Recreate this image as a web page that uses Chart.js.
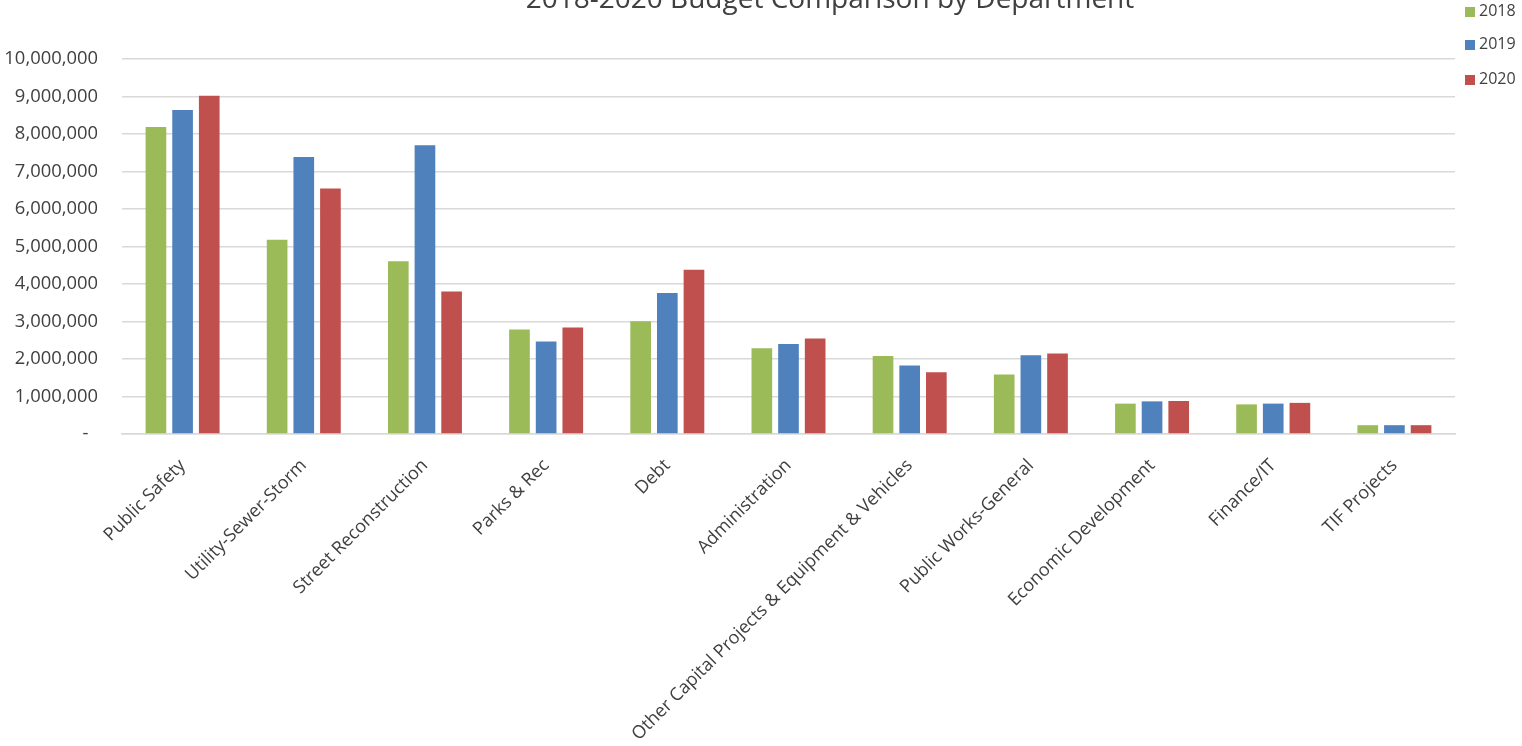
<!DOCTYPE html>
<html>
<head>
<meta charset="utf-8">
<script src="https://cdn.jsdelivr.net/npm/chart.js@4"></script>
<style>
  body { margin: 0; background: #fff; overflow: hidden; }
  #wrap { position: relative; width: 1522px; height: 746px; }
  #titulo { position: absolute; left: 830px; top: -17px; transform: translateX(-50%); white-space: nowrap;
            font: 28px "Open Sans"; line-height: 1; color: #404040; }
  #leyenda { position: absolute; left: 1465px; top: 0; font: 16px "Open Sans"; color: #404040; }
  .item { position: absolute; left: 0; white-space: nowrap; line-height: 16px; }
  .caja { display: inline-block; width: 10px; height: 10px; margin-right: 4px; vertical-align: -1px; }
</style>
</head>
<body>
<div id="wrap">
  <canvas id="grafico"></canvas>
  <div id="titulo">2018-2020 Budget Comparison by Department</div>
  <div id="leyenda"></div>
</div>
<script>
const departamentos = ['Public Safety', 'Utility-Sewer-Storm', 'Street Reconstruction', 'Parks & Rec', 'Debt',
  'Administration', 'Other Capital Projects & Equipment & Vehicles', 'Public Works-General',
  'Economic Development', 'Finance/IT', 'TIF Projects'];
const anios = ['2018', '2019', '2020'];
const valores2018 = [8190000, 5180000, 4610000, 2790000, 3010000, 2290000, 2080000, 1590000, 810000, 790000, 235000];
const valores2019 = [8640000, 7390000, 7700000, 2470000, 3760000, 2400000, 1830000, 2100000, 870000, 810000, 235000];
const valores2020 = [9020000, 6550000, 3800000, 2840000, 4380000, 2550000, 1650000, 2150000, 880000, 830000, 235000];
const colores = ['#9BBB59', '#4F81BD', '#C0504D'];

const series = [valores2018, valores2019, valores2020];
const textoColor = '#404040';

// leyenda en html, a la derecha arriba
const leyenda = document.getElementById('leyenda');
const posY = [2, 35, 70];
anios.forEach((anio, i) => {
  const div = document.createElement('div');
  div.className = 'item';
  div.style.top = posY[i] + 'px';
  div.innerHTML = `<span class="caja" style="background:${colores[i]}"></span>${anio}`;
  leyenda.appendChild(div);
});

const ctx = document.getElementById('grafico');
const chart = new Chart(ctx, {
  type: 'bar',
  data: {
    labels: departamentos,
    datasets: series.map((datos, i) => ({
      label: anios[i],
      data: datos,
      backgroundColor: colores[i],
      borderWidth: 0,
      categoryPercentage: 0.66,
      barPercentage: 0.775
    }))
  },
  options: {
    responsive: true,
    maintainAspectRatio: false,
    animation: false,
    layout: { padding: { top: 59, right: 67, left: 5, bottom: 0 } },
    plugins: {
      legend: { display: false },
      title: { display: false },
      tooltip: { enabled: false }
    },
    scales: {
      x: {
        grid: { display: false },
        border: { display: true, color: '#d9d9d9', width: 1.5 },
        afterFit: (escala) => { escala.height = 312; },
        ticks: {
          autoSkip: false,
          minRotation: 45,
          maxRotation: 45,
          padding: 13,
          color: textoColor,
          font: { family: 'Open Sans', size: 18 }
        }
      },
      y: {
        min: 0,
        max: 10000000,
        border: { display: false },
        grid: { color: '#d9d9d9', lineWidth: 1.5, drawTicks: false },
        afterFit: (escala) => { escala.width = 117; },
        ticks: {
          stepSize: 1000000,
          padding: 24,
          color: textoColor,
          font: { family: 'Open Sans', size: 18.4 },
          callback: (v) => v === 0 ? '-  ' : v.toLocaleString('en-US')
        }
      }
    }
  }
});
</script>
</body>
</html>
